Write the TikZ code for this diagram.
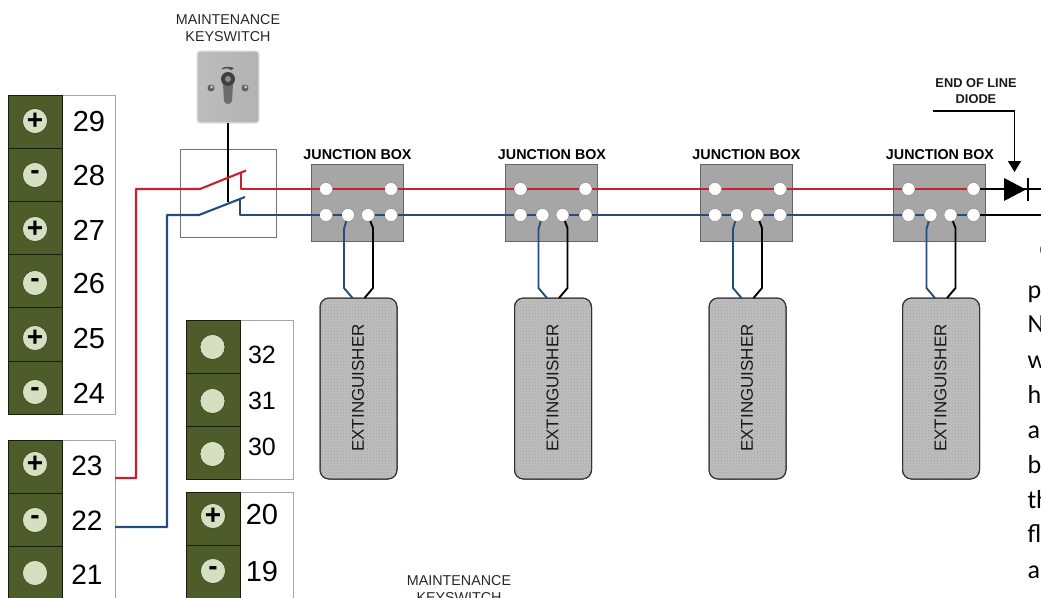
\documentclass[tikz,border=0pt]{standalone}
\usepackage{fontspec}
\setmainfont{Liberation Sans}
\newfontfamily\bodyfont{Carlito}
\usetikzlibrary{calc,patterns,arrows.meta}
\newcommand{\fsz}[1]{\fontsize{#1}{#1}\selectfont}
\definecolor{panelgreen}{HTML}{4D5C29}
\definecolor{dotgreen}{HTML}{D6E0C0}
\definecolor{wirered}{HTML}{C8202F}
\definecolor{wireblue}{HTML}{254C7C}
\definecolor{jboxgray}{HTML}{A6A6A6}
\tikzset{
  every node/.style={inner sep=0pt,outer sep=0pt},
  whitepanel/.style={draw=gray!70,line width=1pt,fill=white,anchor=north west},
  gcell/.style={draw=black!70!panelgreen,line width=.8pt,fill=panelgreen,anchor=north west,minimum width=54pt},
  gdot/.style={circle,fill=dotgreen,draw=black!40!panelgreen,line width=.5pt,minimum size=25pt,font=\fsz{28}\bfseries},
  num/.style={font=\fsz{#1}},
  redw/.style={draw=wirered,line width=2.1pt,line join=round},
  bluew/.style={draw=wireblue,line width=2.1pt,line join=round},
  blackw/.style={draw=black,line width=2.1pt,line join=round},
  jbox/.style={draw=gray!120,line width=.9pt,fill=jboxgray,anchor=north west,minimum width=92pt,minimum height=77pt},
  hole/.style={circle,fill=white,draw=gray!90,line width=.5pt,minimum size=13pt},
  jlabel/.style={font=\fsz{14.3}\bfseries},
  capt/.style={font=\fsz{14.3},text=black!85},
  ext/.style={rounded corners=9pt,draw=black!80,line width=1pt,anchor=north west,minimum width=77pt,minimum height=181pt},
  bodytext/.style={font=\bodyfont\fsz{26},anchor=base west,text=black},
}
\begin{document}
\begin{tikzpicture}[x=1pt,y=-1pt]
\useasboundingbox (0,0) rectangle (1041,597);
\clip (0,0) rectangle (1041,597);
% terminal panels
\node[whitepanel,minimum width=107pt,minimum height=319pt] (panelA) at (8,95) {};
\node[whitepanel,minimum width=107pt,minimum height=190pt] (panelB) at (8,440) {};
\node[whitepanel,minimum width=107pt,minimum height=159pt] (panelC) at (186,320) {};
\node[whitepanel,minimum width=107pt,minimum height=130pt] (panelD) at (186,492) {};
\foreach \n/\t/\dy/\ny/\sym in {29/95/121/122/+,28/148.2/175/176/-,27/201.4/229/230/+,26/254.6/283/284/-,25/307.8/338/339/+,24/361/392/393/-}{
  \node[gcell,minimum height=53.2pt] (c\n) at (8,\t) {};
  \node[gdot] (d\n) at (35,\dy) {\sym};
  \node[num=29] (n\n) at (89,\ny) {\n};
}
\foreach \n/\t/\dy/\ny/\sym in {23/440/464/466/+,22/493/520/521/-,21/546/573/575/\relax}{
  \node[gcell,minimum height=53pt] (c\n) at (8,\t) {};
  \node[gdot] (d\n) at (35,\dy) {\sym};
  \node[num=28] (n\n) at (87,\ny) {\n};
}
\foreach \n/\t/\dy/\ny in {32/320/347/355,31/373/401/401,30/426/454/447}{
  \node[gcell,minimum height=53pt] (c\n) at (186,\t) {};
  \node[gdot] (d\n) at (212.5,\dy) {};
  \node[num=25] (n\n) at (262,\ny) {\n};
}
\foreach \n/\t/\dy/\ny/\sym in {20/492/516/515/+,19/545/571/572/-}{
  \node[gcell,minimum height=53pt] (c\n) at (186,\t) {};
  \node[gdot] (d\n) at (213,\dy) {\sym};
  \node[num=29] (n\n) at (262,\ny) {\n};
}
% keyswitch
\node[capt] (kt1) at (228,19.5) {MAINTENANCE};
\node[capt] (kt2) at (228,36.5) {KEYSWITCH};
\node[rounded corners=3pt,left color=gray!52,right color=gray!60,draw=gray!22,line width=1.2pt,minimum width=62pt,minimum height=72pt] (key) at (228,87) {};
\fill[black!70] (222,68) .. controls (226,66.5) and (230,66.5) .. (234,68) -- (231.5,70) .. controls (229,68) and (226,68) .. (222,69.3) -- cycle;
\fill[gray!115] (223,84) -- (233,84) -- (232,101) .. controls (231,105) and (225,105) .. (224,101) -- cycle;
\fill[black!75] (228,79) circle (7);
\fill[gray!90] (228,79) circle (3);
\fill[gray!125] (211,88) circle (3.5) (245,88) circle (3.5);
\fill[gray!35] (211.5,87) circle (1.5) (245.5,87) circle (1.5);
% switch housing
\node[draw=gray!110,line width=.9pt,fill=white,anchor=north west,minimum width=96pt,minimum height=88pt] (sw) at (180,149) {};
% junction boxes
\foreach \i/\x in {1/311,2/505.5,3/700,4/893.5}{
  \node[jbox] (jb\i) at (\x,164) {};
  \node[jlabel] (jl\i) at (\x+46.5,155) {JUNCTION BOX};
  \node[hole] (a\i) at (\x+15,189) {};
  \node[hole] (b\i) at (\x+80,189) {};
  \node[hole] (c\i) at (\x+15,215) {};
  \node[hole] (d\i) at (\x+37,215) {};
  \node[hole] (e\i) at (\x+57,215) {};
  \node[hole] (f\i) at (\x+80,215) {};
  \draw[redw] (a\i) -- (b\i);
  \draw[bluew] (c\i) -- (d\i);
  \draw[bluew] (e\i) -- (f\i);
  \node[ext,fill=gray!50] (x\i) at (\x+9,298) {};
  \node[ext,pattern=crosshatch dots,pattern color=gray!75] (xp\i) at (\x+9,298) {};
  \node[rotate=90,font=\fsz{17},text=black!90] (xl\i) at (\x+47,388) {EXTINGUISHER};
  \draw[bluew,line width=1.9pt] (d\i) -- ++(-4,14) -- ++(0,59) -- ($(x\i.north)+(-6,0)$);
  \draw[blackw,line width=1.9pt] (e\i) -- ++(5,13) -- ++(0,60) -- ($(x\i.north)+(6,0)$);
}
\foreach \i/\j in {1/2,2/3,3/4}{
  \draw[redw] (b\i) -- (a\j);
  \draw[bluew] (f\i) -- (c\j);
}
% switch wiring
\coordinate (ru) at (136,189);
\coordinate (rp) at (200,189);
\coordinate (rt) at (246,170.5);
\coordinate (rn) at (241,172);
\coordinate (rm) at (241,189);
\coordinate (bu) at (167,215);
\coordinate (bp) at (199,215);
\coordinate (bt) at (245,197);
\coordinate (bn) at (240,199);
\coordinate (bm) at (240,215);
\draw[blackw,line width=1.9pt] (key.south) -- (228,202);
\draw[redw] (panelB.east |- 0,478) -- (136,478) -- (ru) -- (rp) -- (rt);
\draw[redw] (rn) -- (rm) -- (a1);
\draw[bluew] (panelB.east |- 0,527) -- (167,527) -- (bu) -- (bp) -- (bt);
\draw[bluew] (bn) -- (bm) -- (c1);
% diode and end of line
\coordinate (eolr) at (1041,189);
\coordinate (eolb) at (1041,215);
\draw[blackw] (b4) -- (eolr);
\draw[blackw] (f4) -- (eolb);
\fill[black] (1004,178) -- (1026,189.5) -- (1004,201) -- cycle;
\draw[black,line width=1.4pt] (1028,178) -- (1028,201);
\node[font=\fsz{12.8}\bfseries,text=black!90] (el1) at (976,83) {END OF LINE};
\node[font=\fsz{12.8}\bfseries,text=black!90] (el2) at (976,99) {DIODE};
\coordinate (eols) at (933,111);
\coordinate (eolt) at (1014.5,172);
\draw[black,line width=1.6pt,-{Triangle[length=11pt,width=13pt]}] (eols) -- (1014.5,111) -- (eolt);
% bottom caption
\node[capt] (bt1) at (459,581) {MAINTENANCE};
\node[capt] (bt2) at (459,598) {KEYSWITCH};
% truncated body text
\node[bodytext] (r0) at (1039.5,258) {C};
\foreach \s/\by [count=\k] in {p/298,N/332,w/368,h/403,a/438,b/473,th/508,fl/542,a/578}{
  \node[bodytext] (r\k) at (1027.5,\by) {\s};
}
\end{tikzpicture}
\end{document}
